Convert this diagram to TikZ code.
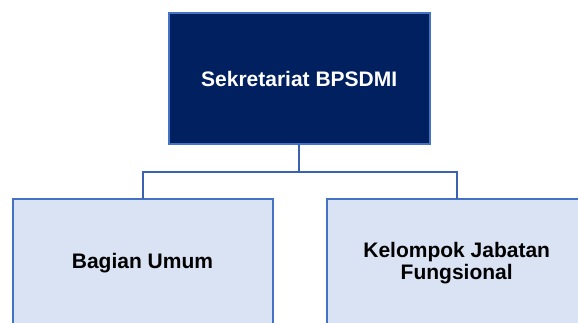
\documentclass[tikz,border=0pt]{standalone}
\usepackage{fontspec}
\setmainfont{Liberation Sans}
\usetikzlibrary{positioning,calc}
\definecolor{navyfill}{HTML}{002060}
\definecolor{orgblue}{HTML}{4472C4}
\definecolor{linkblue}{HTML}{3A62AE}
\definecolor{unitfill}{HTML}{DAE3F3}

\begin{document}
\begin{tikzpicture}[x=1pt, y=1pt,
    head/.style={rectangle, draw=orgblue, line width=2pt, fill=navyfill, text=white,
                 minimum width=261pt, minimum height=131pt, align=center, outer sep=0pt,
                 font=\fontsize{21}{22}\selectfont\bfseries},
    unit/.style={rectangle, draw=orgblue, line width=2pt, fill=unitfill, text=black,
                 minimum width=260pt, minimum height=128pt, align=center, outer sep=0pt,
                 font=\fontsize{21}{22}\selectfont\bfseries},
    conn/.style={draw=linkblue, line width=2pt}
]
    \useasboundingbox (0,0) rectangle (578,322);
    \clip (0,0) rectangle (578,322);

    \node[head] (sekre) at (299.2, 243.2) {Sekretariat BPSDMI};
    \node[unit] (umum)  at (142.5, 59)    {Bagian Umum};
    \node[unit] (jafung) at (456.7, 59)   {Kelompok Jabatan\\Fungsional};

    \coordinate (bus) at (299.2, 150);

    \draw[conn] (sekre.south) -- (bus);
    \draw[conn] (bus) -| (umum.north);
    \draw[conn] (bus) -| (jafung.north);
\end{tikzpicture}
\end{document}
